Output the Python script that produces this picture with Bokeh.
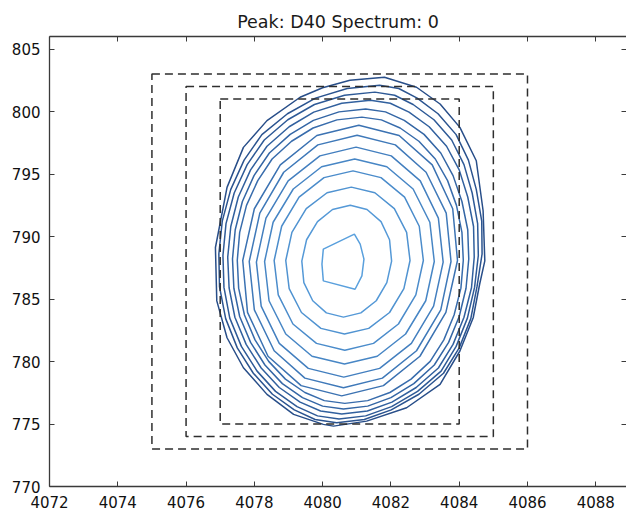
from bokeh.plotting import figure
from bokeh.models import Range1d, LinearAxis, FixedTicker
from bokeh.embed import file_html
from bokeh.resources import INLINE

title_text = "Peak: D40 Spectrum: 0"
x_ticks = [4072, 4074, 4076, 4078, 4080, 4082, 4084, 4086, 4088]
y_ticks = [770, 775, 780, 785, 790, 795, 800, 805]

# dashed boxes (left, right, bottom, top)
box_left = [4075, 4076, 4077]
box_right = [4086, 4085, 4084]
box_bottom = [773, 774, 775]
box_top = [803, 802, 801]

# contour outlines, innermost first
c1_x = [4081.21, 4081.15, 4080.95, 4080.02, 4079.98, 4080.02, 4080.93, 4081.10]
c1_y = [788.19, 786.85, 785.78, 786.45, 787.79, 788.99, 790.19, 789.39]
c2_x = [4082.02, 4081.96, 4081.71, 4081.30, 4080.81, 4080.29, 4079.85, 4079.53, 4079.39, 4079.45, 4079.71, 4080.11, 4080.61, 4081.12, 4081.57, 4081.88]
c2_y = [788.03, 789.74, 791.19, 792.16, 792.50, 792.16, 791.19, 789.74, 788.03, 786.31, 784.86, 783.89, 783.55, 783.89, 784.86, 786.31]
c3_x = [4082.56, 4082.46, 4082.10, 4081.53, 4080.84, 4080.13, 4079.52, 4079.10, 4078.92, 4079.02, 4079.38, 4079.95, 4080.64, 4081.35, 4081.96, 4082.38]
c3_y = [788.08, 790.33, 792.23, 793.50, 793.95, 793.50, 792.23, 790.33, 788.08, 785.83, 783.92, 782.65, 782.20, 782.65, 783.92, 785.83]
c4_x = [4082.95, 4082.83, 4082.40, 4081.71, 4080.89, 4080.04, 4079.31, 4078.80, 4078.58, 4078.70, 4079.13, 4079.82, 4080.65, 4081.49, 4082.22, 4082.73]
c4_y = [788.08, 790.82, 793.15, 794.71, 795.25, 794.71, 793.15, 790.82, 788.08, 785.33, 783.00, 781.45, 780.90, 781.45, 783.00, 785.33]
c5_x = [4083.27, 4083.14, 4082.65, 4081.88, 4080.94, 4079.97, 4079.14, 4078.55, 4078.30, 4078.43, 4078.92, 4079.69, 4080.64, 4081.60, 4082.43, 4083.02]
c5_y = [788.00, 791.14, 793.80, 795.58, 796.20, 795.58, 793.80, 791.14, 788.00, 784.86, 782.20, 780.42, 779.80, 780.42, 782.20, 784.86]
c6_x = [4083.53, 4083.39, 4082.86, 4082.01, 4080.98, 4079.92, 4078.99, 4078.34, 4078.06, 4078.20, 4078.73, 4079.58, 4080.62, 4081.67, 4082.60, 4083.25]
c6_y = [787.95, 791.47, 794.45, 796.45, 797.15, 796.45, 794.45, 791.47, 787.95, 784.43, 781.45, 779.45, 778.75, 779.45, 781.45, 784.43]
c7_x = [4083.76, 4083.62, 4083.03, 4082.13, 4081.01, 4079.86, 4078.86, 4078.16, 4077.85, 4078.00, 4078.58, 4079.48, 4080.61, 4081.75, 4082.75, 4083.46]
c7_y = [788.00, 791.87, 795.14, 797.33, 798.10, 797.33, 795.14, 791.87, 788.00, 784.13, 780.86, 778.67, 777.90, 778.67, 780.86, 784.13]
c8_x = [4083.95, 4083.81, 4083.21, 4082.24, 4081.06, 4079.83, 4078.76, 4078.00, 4077.66, 4077.80, 4078.40, 4079.37, 4080.56, 4081.78, 4082.85, 4083.61]
c8_y = [788.08, 792.22, 795.73, 798.08, 798.90, 798.08, 795.73, 792.22, 788.08, 783.93, 780.42, 778.07, 777.25, 778.07, 780.42, 783.93]
c9_x = [4084.12, 4084.08, 4083.92, 4083.66, 4083.30, 4082.82, 4082.27, 4081.72, 4081.15, 4080.42, 4079.72, 4079.09, 4078.52, 4078.10, 4077.77, 4077.57,
        4077.50, 4077.54, 4077.71, 4078.02, 4078.42, 4078.91, 4079.48, 4080.05, 4080.65, 4081.32, 4081.97, 4082.59, 4083.15, 4083.55, 4083.85, 4084.05]
c9_y = [788.10, 790.33, 792.49, 794.47, 796.20, 797.62, 798.68, 799.33, 799.55, 799.33, 798.68, 797.62, 796.20, 794.47, 792.49, 790.33,
        788.10, 785.87, 783.72, 781.73, 780.01, 778.59, 777.52, 776.87, 776.65, 776.87, 777.52, 778.59, 780.01, 781.73, 783.72, 785.87]
c10_x = [4084.28, 4084.25, 4084.08, 4083.82, 4083.46, 4082.97, 4082.39, 4081.84, 4081.26, 4080.48, 4079.73, 4079.05, 4078.44, 4077.99, 4077.65, 4077.44,
         4077.36, 4077.40, 4077.57, 4077.89, 4078.31, 4078.82, 4079.41, 4080.00, 4080.61, 4081.32, 4082.00, 4082.67, 4083.27, 4083.69, 4084.00, 4084.20]
c10_y = [788.20, 790.54, 792.80, 794.87, 796.68, 798.17, 799.29, 799.97, 800.20, 799.97, 799.29, 798.17, 796.68, 794.87, 792.80, 790.54,
         788.20, 785.86, 783.60, 781.53, 779.72, 778.23, 777.11, 776.43, 776.20, 776.43, 777.11, 778.23, 779.72, 781.53, 783.60, 785.86]
c11_x = [4084.44, 4084.42, 4084.25, 4084.00, 4083.63, 4083.12, 4082.53, 4081.98, 4081.40, 4080.56, 4079.74, 4079.02, 4078.37, 4077.89, 4077.53, 4077.31,
         4077.22, 4077.26, 4077.43, 4077.76, 4078.20, 4078.73, 4079.34, 4079.94, 4080.56, 4081.31, 4082.03, 4082.74, 4083.39, 4083.82, 4084.14, 4084.36]
c11_y = [788.35, 790.80, 793.16, 795.33, 797.22, 798.78, 799.95, 800.66, 800.90, 800.66, 799.95, 798.78, 797.22, 795.33, 793.16, 790.80,
         788.35, 785.90, 783.54, 781.37, 779.48, 777.92, 776.75, 776.04, 775.80, 776.04, 776.75, 777.92, 779.48, 781.37, 783.54, 785.90]
c12_x = [4084.56, 4084.54, 4084.38, 4084.14, 4083.78, 4083.26, 4082.65, 4082.11, 4081.53, 4080.64, 4079.76, 4078.98, 4078.29, 4077.79, 4077.41, 4077.17,
         4077.08, 4077.11, 4077.28, 4077.62, 4078.08, 4078.62, 4079.25, 4079.85, 4080.48, 4081.26, 4082.02, 4082.78, 4083.47, 4083.91, 4084.24, 4084.45]
c12_y = [788.48, 791.03, 793.48, 795.75, 797.72, 799.34, 800.56, 801.30, 801.55, 801.30, 800.56, 799.34, 797.72, 795.75, 793.48, 791.03,
         788.48, 785.93, 783.47, 781.21, 779.23, 777.61, 776.39, 775.65, 775.40, 775.65, 776.39, 777.61, 779.23, 781.21, 783.47, 785.93]
c13_x = [4084.67, 4084.66, 4084.50, 4084.27, 4083.91, 4083.38, 4082.77, 4082.23, 4081.67, 4080.72, 4079.79, 4078.97, 4078.22, 4077.70, 4077.31, 4077.06,
         4076.96, 4076.98, 4077.16, 4077.50, 4077.97, 4078.53, 4079.17, 4079.78, 4080.41, 4081.22, 4082.01, 4082.82, 4083.54, 4084.00, 4084.34, 4084.52]
c13_y = [788.60, 791.23, 793.77, 796.11, 798.15, 799.82, 801.07, 801.84, 802.10, 801.84, 801.07, 799.82, 798.15, 796.11, 793.77, 791.23,
         788.60, 785.97, 783.43, 781.09, 779.06, 777.38, 776.13, 775.36, 775.10, 775.36, 776.13, 777.38, 779.06, 781.09, 783.43, 785.97]
c14_x = [4084.75, 4084.70, 4084.50, 4084.02, 4083.44, 4082.75, 4081.81, 4080.80, 4080.00, 4079.34, 4078.37, 4077.68, 4077.20, 4076.86, 4076.90, 4077.20, 4077.68, 4078.37, 4079.15, 4080.02, 4080.32, 4081.29, 4082.46, 4083.44, 4084.02, 4084.41, 4084.60]
c14_y = [788.05, 792.06, 796.06, 798.73, 800.60, 801.94, 802.74, 802.50, 801.90, 801.14, 799.27, 797.13, 793.93, 789.12, 784.85, 781.90, 779.50, 777.37, 775.77, 774.97, 774.83, 775.23, 776.30, 778.17, 780.84, 783.50, 786.20]

contour_colors = ["#5aa0dd", "#5599d7", "#5093d1", "#4b8ccb", "#4786c5", "#437fbf", "#3f79b9",
                  "#3b72b2", "#386cac", "#3466a5", "#31609e", "#2e5a97", "#2b5490", "#284e89"]

contour_xs = [c1_x, c2_x, c3_x, c4_x, c5_x, c6_x, c7_x, c8_x, c9_x, c10_x, c11_x, c12_x, c13_x, c14_x]
contour_ys = [c1_y, c2_y, c3_y, c4_y, c5_y, c6_y, c7_y, c8_y, c9_y, c10_y, c11_y, c12_y, c13_y, c14_y]

FONT = "DejaVu Sans"
AX = "#3a3a3a"

p = figure(width=626, height=513, output_backend="svg", toolbar_location=None,
           x_range=Range1d(4072, 4088.9), y_range=Range1d(770, 806),
           min_border_left=49, min_border_right=0, min_border_top=36, min_border_bottom=27)
p.title.text = title_text
p.title.align = "center"
p.title.text_font = FONT
p.title.text_font_size = "17.5px"
p.title.text_font_style = "normal"
p.title.text_color = "#1a1a1a"
p.grid.visible = False
p.outline_line_color = None
p.background_fill_color = "white"
p.border_fill_color = "white"


def style_axis(ax, ticks, labels=True, line=True):
    ax.ticker = FixedTicker(ticks=ticks)
    ax.axis_line_color = AX if line else None
    ax.axis_line_width = 1.3
    ax.major_tick_in = 5
    ax.major_tick_out = 0
    ax.major_tick_line_color = AX
    ax.major_tick_line_width = 1
    ax.minor_tick_line_color = None
    ax.major_label_text_font = FONT
    ax.major_label_text_color = "#111111"
    if labels:
        ax.major_label_text_font_size = "15px"
    else:
        ax.major_label_text_font_size = "0px"
        ax.major_label_standoff = 0


style_axis(p.xaxis[0], x_ticks)
p.xaxis[0].major_label_standoff = 9
style_axis(p.yaxis[0], y_ticks)
p.yaxis[0].major_label_standoff = 9

top_axis = LinearAxis()
style_axis(top_axis, x_ticks, labels=False)
p.add_layout(top_axis, "above")

right_axis = LinearAxis()
style_axis(right_axis, y_ticks, labels=False, line=False)
p.add_layout(right_axis, "right")

p.patches(xs=contour_xs, ys=contour_ys, fill_alpha=0, line_color=contour_colors, line_width=1.5)

p.quad(left=box_left, right=box_right, bottom=box_bottom, top=box_top,
       fill_alpha=0, line_color="#2e2e2e", line_width=1.5, line_dash="8 5")

open("out.html", "w").write(file_html(p, INLINE))
